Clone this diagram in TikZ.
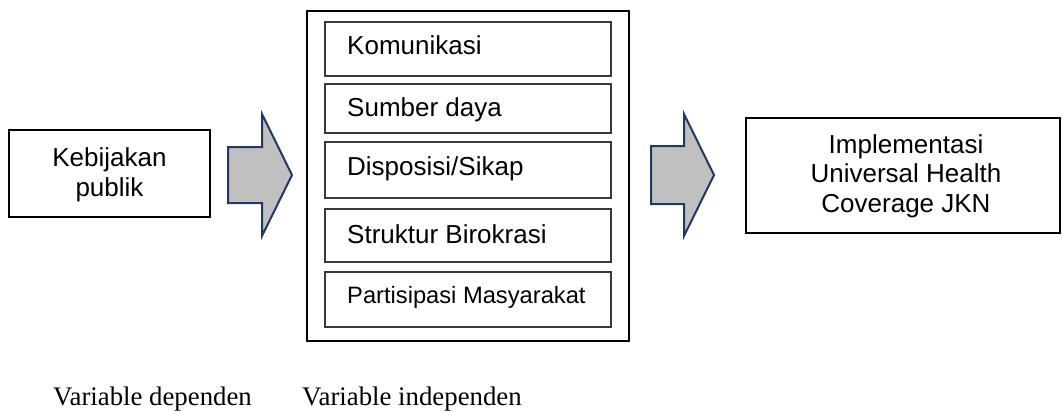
\documentclass[tikz,border=0pt]{standalone}
\usepackage{fontspec}
\setmainfont{Liberation Serif}
\setsansfont{Liberation Sans}
\definecolor{arrowfill}{HTML}{C0C0C0}
\definecolor{arrowline}{HTML}{1F3864}
\definecolor{innerline}{HTML}{3A3A3A}
\begin{document}
\begin{tikzpicture}[x=1pt,y=-1pt,
  outerbox/.style={draw=black,line width=2pt,fill=white},
  innerbox/.style={draw=innerline,line width=1.5pt},
  sanstext/.style={font=\sffamily\fontsize{26}{29.5}\selectfont,inner sep=0pt},
  serifText/.style={font=\rmfamily\fontsize{26.8}{30}\selectfont,inner sep=0pt,anchor=base west},
  bigarrow/.style={draw=arrowline,fill=arrowfill,line width=2pt,line join=miter}]
\useasboundingbox (0,0) rectangle (1063,412);
% left box
\draw[outerbox] (9,130) rectangle (210,217);
\node[sanstext,align=center,anchor=base] (kb) at (109.5,196) {Kebijakan\\publik};
% left arrow
\draw[bigarrow] (228,147) -- (262,147) -- (262,114) -- (292,175) -- (262,236) -- (262,203) -- (228,203) -- cycle;
% middle box
\draw[outerbox] (307,11) rectangle (629,341);
\draw[innerbox] (325,22) rectangle (611,76);
\draw[innerbox] (325,84) rectangle (611,133);
\draw[innerbox] (325,142) rectangle (611,198);
\draw[innerbox] (325,209) rectangle (611,262);
\draw[innerbox] (325,272) rectangle (611,327);
\node[sanstext,anchor=base west] (t1) at (347,55) {Komunikasi};
\node[sanstext,anchor=base west] (t2) at (347,117) {Sumber daya};
\node[sanstext,anchor=base west] (t3) at (347,175) {Disposisi/Sikap};
\node[sanstext,anchor=base west] (t4) at (347,243) {Struktur Birokrasi};
\node[sanstext,anchor=base west,font=\sffamily\fontsize{23.7}{27}\selectfont] (t5) at (347,303) {Partisipasi Masyarakat};
% right arrow
\draw[bigarrow] (651,146) -- (684,146) -- (684,114) -- (714,175) -- (684,236) -- (684,204) -- (651,204) -- cycle;
% right box
\draw[outerbox] (746,118) rectangle (1060,233);
\node[sanstext,align=center,anchor=base] (ri) at (906,212) {Implementasi\\Universal Health\\Coverage JKN};
% bottom labels
\node[serifText] (vd) at (53,405) {Variable dependen};
\node[serifText] (vi) at (302,405) {Variable independen};
\end{tikzpicture}
\end{document}
